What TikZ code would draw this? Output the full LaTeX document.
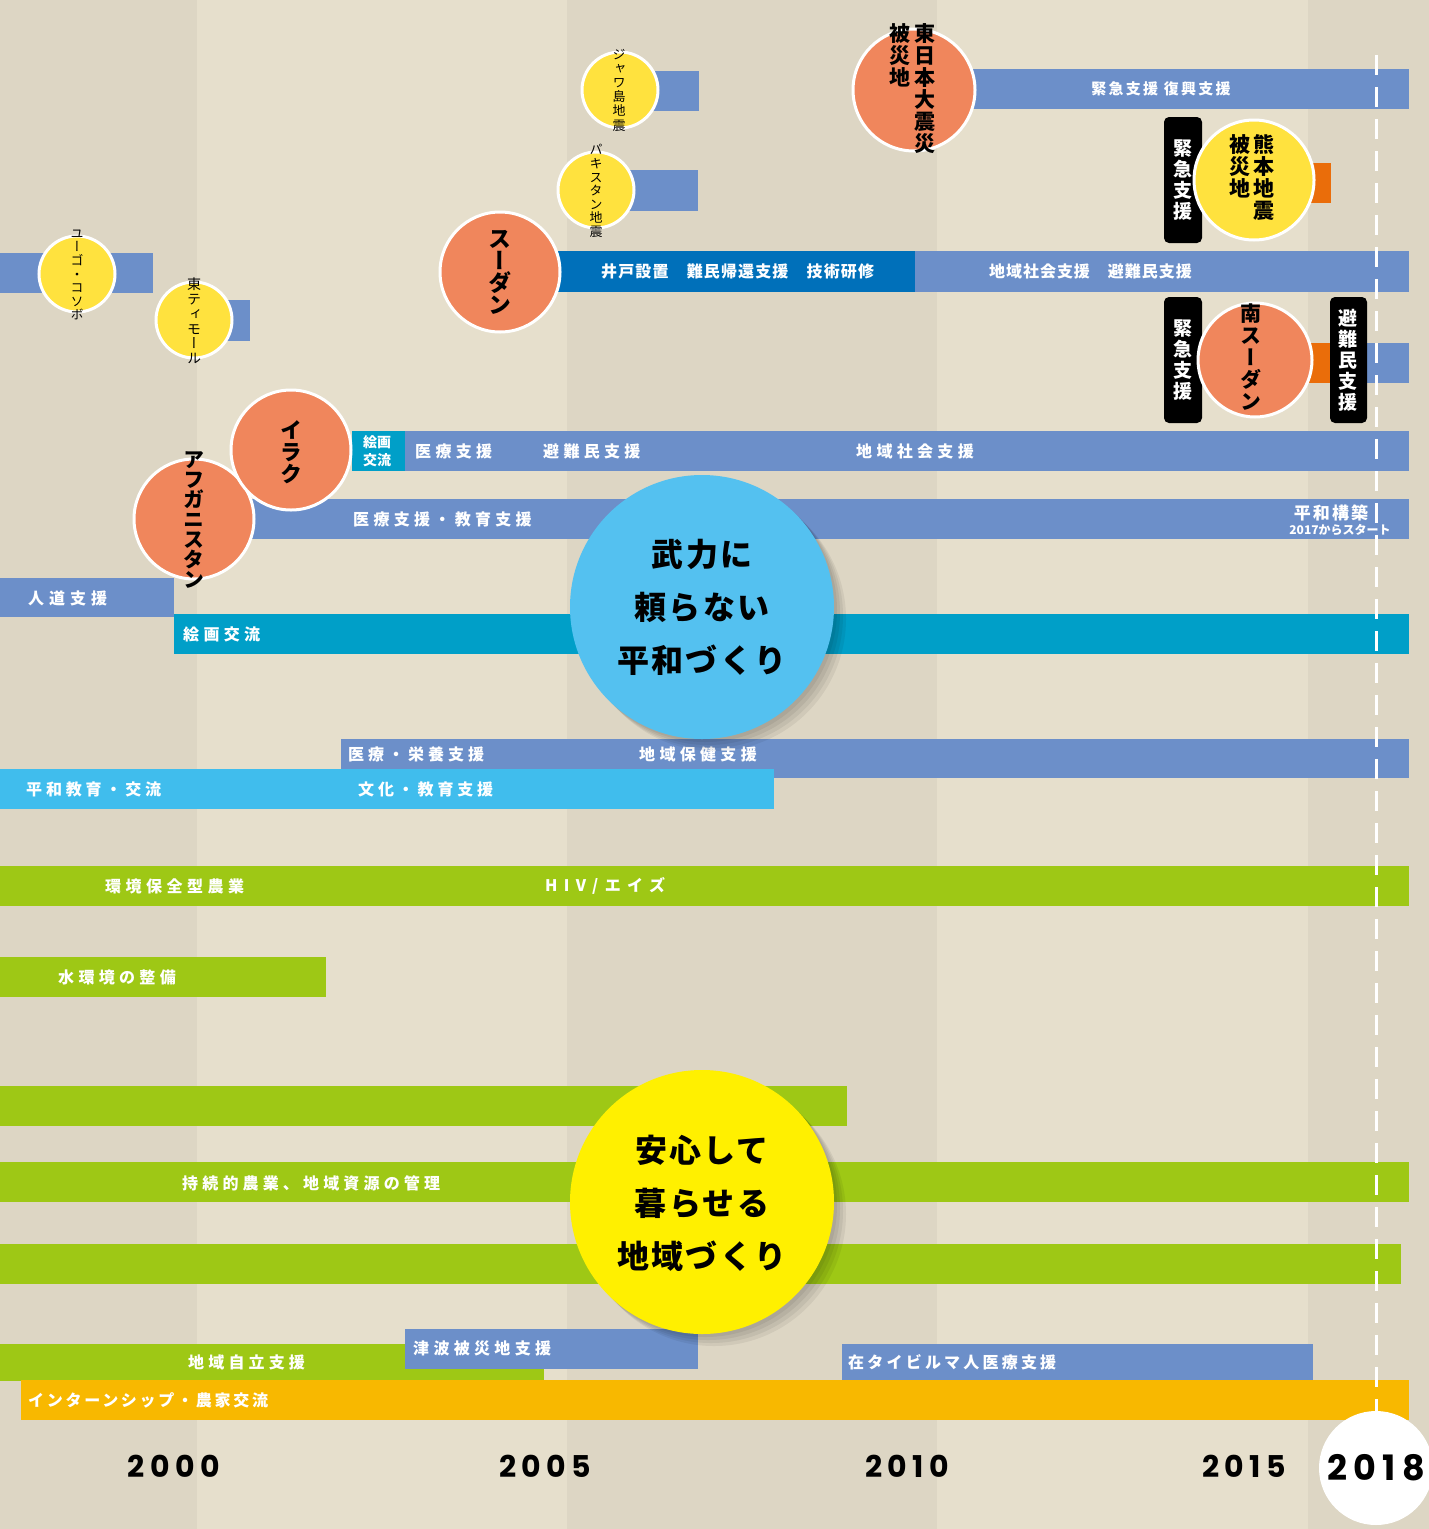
\documentclass[tikz,border=0pt]{standalone}
\usepackage{fontspec}
\setmainfont{Noto Sans CJK JP}
\newfontfamily\jpsp[LetterSpace=27]{Noto Sans CJK JP}
\newfontfamily\jpbig[LetterSpace=7]{Noto Sans CJK JP}
\newfontfamily\vjp[RawFeature=+vert]{Noto Sans CJK JP}
\newfontfamily\yrfont[LetterSpace=18]{Poppins}
\definecolor{bgA}{HTML}{DDD6C4}
\definecolor{bgB}{HTML}{E6DFCC}
\definecolor{cBlue}{HTML}{6C8FC9}
\definecolor{cDBlue}{HTML}{0070BA}
\definecolor{cTeal}{HTML}{009FC8}
\definecolor{cLBlue}{HTML}{40BDED}
\definecolor{cGreen}{HTML}{9EC815}
\definecolor{cOrBar}{HTML}{F8B800}
\definecolor{cOrSm}{HTML}{EA6D0A}
\definecolor{cCirO}{HTML}{F0865C}
\definecolor{cCirY}{HTML}{FFE23E}
\definecolor{cBigB}{HTML}{54C1F0}
\definecolor{cBigY}{HTML}{FFF000}
\begin{document}
\begin{tikzpicture}[x=1pt,y=-1pt,
  lab/.style={text=white,font=\jpsp\bfseries\fontsize{16}{18}\selectfont,anchor=west,inner sep=0pt},
  labls/.style={lab,font=\jpsp\bfseries\fontsize{16}{18}\addfontfeature{LetterSpace=#1}\selectfont},
  vsmall/.style={font=\vjp\fontsize{13}{13.6}\selectfont,align=center,inner sep=0pt,text=black},
  vbig/.style={font=\vjp\bfseries\fontsize{21}{22}\selectfont,align=center,inner sep=0pt,text=black},
  vwhite/.style={font=\vjp\bfseries\fontsize{19}{21}\selectfont,align=center,inner sep=0pt,text=white},
  ycirc/.style={circle,fill=cCirY,draw=white,line width=3pt,minimum size=#1,inner sep=0pt},
  ocirc/.style={circle,fill=cCirO,draw=white,line width=3pt,minimum size=#1,inner sep=0pt},
  blackbox/.style={fill=black,rounded corners=5pt},
  bigtext/.style={font=\jpbig\bfseries\fontsize{32}{53}\selectfont,align=center,inner sep=0pt,text=black},
  yearlab/.style={font=\yrfont\bfseries\fontsize{30}{32}\selectfont,inner sep=0pt,text=black}
]
\useasboundingbox (0,0) rectangle (1429,1529);
% background stripes
\fill[bgA] (0,0) rectangle (197,1529);
\fill[bgB] (197,0) rectangle (567,1529);
\fill[bgA] (567,0) rectangle (937,1529);
\fill[bgB] (937,0) rectangle (1308,1529);
\fill[bgA] (1308,0) rectangle (1429,1529);

% ---- bars ----
\fill[cBlue] (0,253) rectangle (153,293);
\fill[cBlue] (200,300) rectangle (250,341);
\fill[cBlue] (640,71) rectangle (699,111);
\fill[cBlue] (620,170) rectangle (698,211);
\fill[cBlue] (960,69) rectangle (1409,109);
\fill[cOrSm] (1300,163) rectangle (1331,203);
\fill[cDBlue] (540,251) rectangle (915,292);
\fill[cBlue] (915,251) rectangle (1409,292);
\fill[cOrSm] (1300,343) rectangle (1332,383);
\fill[cBlue] (1367,343) rectangle (1409,383);
\fill[cTeal] (352,431) rectangle (405,471);
\fill[cBlue] (405,431) rectangle (1409,471);
\fill[cBlue] (250,499) rectangle (1409,539);
\fill[cBlue] (0,578) rectangle (174,617);
\fill[cTeal] (174,614) rectangle (1409,654);
\fill[cBlue] (341,739) rectangle (1409,778);
\fill[cLBlue] (0,769) rectangle (774,809);
\fill[cGreen] (0,866) rectangle (1409,906);
\fill[cGreen] (0,957) rectangle (326,997);
\fill[cGreen] (0,1086) rectangle (847,1126);
\fill[cGreen] (0,1162) rectangle (1409,1202);
\fill[cGreen] (0,1244) rectangle (1401,1284);
\fill[cGreen] (0,1344) rectangle (544,1381);
\fill[cBlue] (405,1329) rectangle (698,1369);
\fill[cBlue] (842,1344) rectangle (1313,1381);
\fill[cOrBar] (21,1380) rectangle (1409,1420);

% ---- bar labels ----
\node[lab,font=\jpsp\bfseries\fontsize{15}{17}\addfontfeature{LetterSpace=15}\selectfont,anchor=center] (l1) at (1161,89) {緊急支援 復興支援};
\node[labls=7] (l2) at (601,271) {井戸設置　難民帰還支援　技術研修};
\node[labls=6] (l3) at (989,271) {地域社会支援　避難民支援};
\node[lab,font=\bfseries\fontsize{14}{18}\selectfont,align=center,anchor=center] (l4) at (377,451) {絵画\\交流};
\node[lab] (l5) at (415,451) {医療支援};
\node[lab] (l6) at (543,451) {避難民支援};
\node[lab] (l7) at (856,451) {地域社会支援};
\node[lab] (l8) at (353,519) {医療支援・教育支援};
\node[lab,font=\jpsp\bfseries\fontsize{17}{18}\addfontfeature{LetterSpace=12}\selectfont,anchor=center] (l9) at (1331,513) {平和構築};
\node[lab,font=\bfseries\fontsize{12}{12}\selectfont,anchor=center] (l10) at (1340,530) {2017からスタート};
\node[labls=31] (l11) at (28,598) {人道支援};
\node[lab] (l12) at (183,634) {絵画交流};
\node[labls=25] (l13) at (348,754) {医療・栄養支援};
\node[lab] (l14) at (639,754) {地域保健支援};
\node[labls=24] (l15) at (26,789) {平和教育・交流};
\node[labls=24] (l16) at (358,789) {文化・教育支援};
\node[labls=28] (l17) at (105,886) {環境保全型農業};
\node[labls=40] (l18) at (545,886) {HIV/エイズ};
\node[lab] (l19) at (58,977) {水環境の整備};
\node[labls=26] (l20) at (182,1183) {持続的農業、地域資源の管理};
\node[labls=26] (l21) at (188,1362) {地域自立支援};
\node[lab] (l22) at (413,1348) {津波被災地支援};
\node[labls=20] (l23) at (848,1362) {在タイビルマ人医療支援};
\node[labls=17] (l24) at (28,1400) {インターンシップ・農家交流};

% ---- dashed 2018 line ----
\coordinate (dtop) at (1376,55);
\coordinate (dbot) at (1376,1415);
\draw[white,line width=3pt,dash pattern=on 20pt off 12pt] (dtop) -- (dbot);

% ---- black boxes ----
\fill[blackbox] (1164,117) rectangle (1202,243);
\fill[blackbox] (1164,297) rectangle (1202,423);
\fill[blackbox] (1330,297) rectangle (1367,423);
\node[vwhite] (bk1) at (1183,180) {緊\\急\\支\\援};
\node[vwhite] (bk2) at (1183,360) {緊\\急\\支\\援};
\node[vwhite] (bk3) at (1348,360) {避\\難\\民\\支\\援};

% ---- country circles ----
\node[ycirc=76] (cyugo) at (77,274) {};
\node[vsmall] (tyugo) at (77,275) {ユ\\ー\\ゴ\\・\\コ\\ソ\\ボ};
\node[ycirc=76] (ctimor) at (194,320) {};
\node[vsmall,font=\vjp\fontsize{14}{14.8}\selectfont] (ttimor) at (194,321) {東\\テ\\ィ\\モ\\ー\\ル};
\node[ycirc=76] (cjava) at (620,90) {};
\node[vsmall,font=\vjp\fontsize{13}{14.2}\selectfont] (tjava) at (619,90) {ジ\\ャ\\ワ\\島\\地\\震};
\node[ycirc=76] (cpak) at (596,190) {};
\node[vsmall] (tpak) at (596,191) {パ\\キ\\ス\\タ\\ン\\地\\震};
\node[ocirc=120] (csudan) at (500,272) {};
\node[vbig,font=\vjp\bfseries\fontsize{23}{22}\selectfont] (tsudan) at (500,272) {ス\\ー\\ダ\\ン};
\node[ocirc=122] (cjapan) at (914,90) {};
\node[vbig,anchor=north] (tjapan1) at (925,23) {東\\日\\本\\大\\震\\災};
\node[vbig,anchor=north] (tjapan2) at (900,23) {被\\災\\地};
\node[ycirc=120] (ckuma) at (1254,180) {};
\node[vbig,anchor=north] (tkuma1) at (1264,134) {熊\\本\\地\\震};
\node[vbig,anchor=north] (tkuma2) at (1240,134) {被\\災\\地};
\node[ocirc=114] (cssudan) at (1255,360) {};
\node[vbig,anchor=north] (tssudan) at (1251,304) {南\\ス\\ー\\ダ\\ン};
\node[ocirc=120] (cafg) at (194,519) {};
\node[ocirc=120] (ciraq) at (291,450) {};
\node[vbig,font=\vjp\bfseries\fontsize{22}{22}\selectfont] (tiraq) at (291,452) {イ\\ラ\\ク};
\node[vbig,font=\vjp\bfseries\fontsize{21}{20}\selectfont] (tafg) at (194,520) {ア\\フ\\ガ\\ニ\\ス\\タ\\ン};

% ---- big circles with soft shadow ----
\foreach \d in {3,6,9,12}{
  \fill[black,opacity=0.06] (702+\d,607+\d) circle (132);
  \fill[black,opacity=0.06] (702+\d,1202+\d) circle (132);
}
\node[circle,fill=cBigB,minimum size=264pt,inner sep=0pt] (bigb) at (702,607) {};
\node[bigtext] (tbigb) at (702,607) {武力に\\頼らない\\平和づくり};
\node[circle,fill=cBigY,minimum size=264pt,inner sep=0pt] (bigy) at (702,1202) {};
\node[bigtext] (tbigy) at (702,1203) {安心して\\暮らせる\\地域づくり};

% ---- years ----
\node[yearlab] (y2000) at (174,1466) {2000};
\node[yearlab] (y2005) at (545,1466) {2005};
\node[yearlab] (y2010) at (907,1466) {2010};
\node[yearlab] (y2015) at (1244,1466) {2015};
\node[circle,fill=white,minimum size=114pt,inner sep=0pt] (c2018) at (1376,1468) {};
\node[yearlab,font=\yrfont\bfseries\fontsize{35}{36}\selectfont] (y2018) at (1376,1468) {2018};
\end{tikzpicture}
\end{document}
